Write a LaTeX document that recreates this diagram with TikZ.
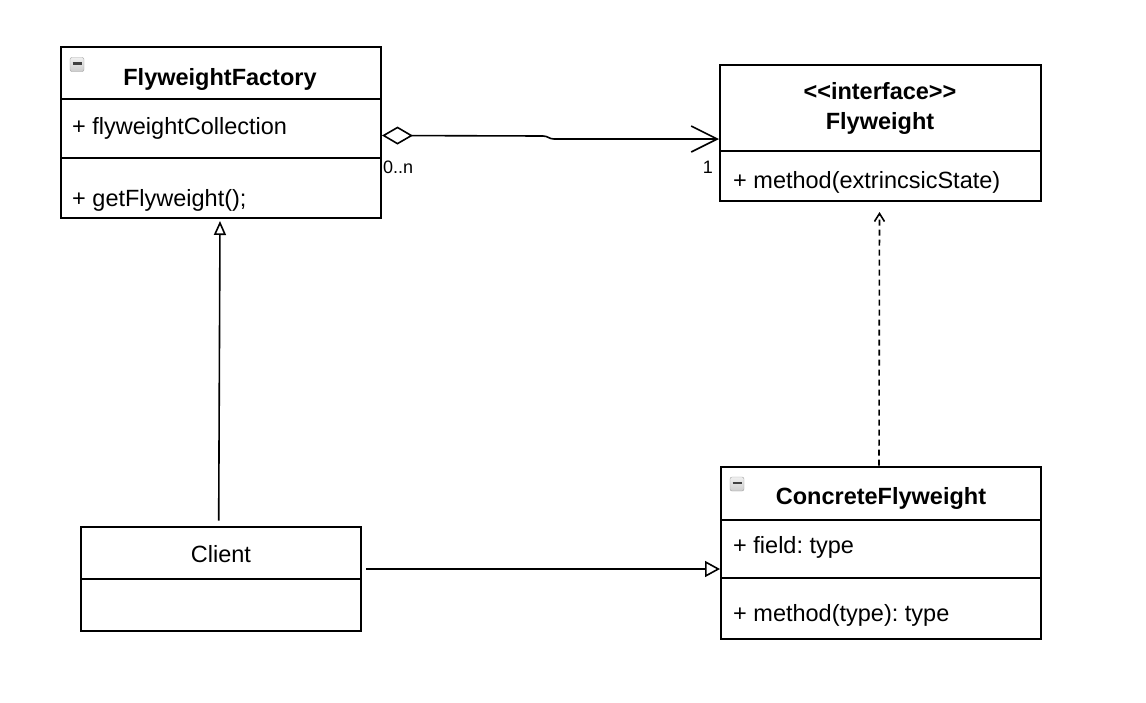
\documentclass[tikz,border=0pt]{standalone}
\usepackage{fontspec}
\setmainfont{Liberation Sans}
\usetikzlibrary{arrows.meta}
\frenchspacing
\begin{document}
\begin{tikzpicture}[x=1pt,y=-1pt,
  box/.style={draw, line width=2pt, rectangle, inner sep=0pt},
  divl/.style={line width=2pt},
  txt/.style={inner sep=0pt, anchor=base west, font=\fontsize{23.5}{28}\selectfont},
  ctxt/.style={inner sep=0pt, anchor=base, font=\fontsize{23.5}{28}\selectfont},
  ttl/.style={inner sep=0pt, anchor=base, font=\bfseries\fontsize{23.5}{28}\selectfont},
  mult/.style={inner sep=0pt, font=\fontsize{18}{21}\selectfont},
  conn/.style={line width=1.6pt},
  dashline/.style={dash pattern=on 6pt off 4pt},
  icon/.style={draw=gray!75, top color=gray!12, bottom color=gray!40, rounded corners=2pt,
    minimum width=14pt, minimum height=14pt, inner sep=0pt,
    path picture={\draw[line width=2.4pt, black!75]
      ([xshift=2.5pt,yshift=1pt]path picture bounding box.west) -- ([xshift=-2.5pt,yshift=1pt]path picture bounding box.east);}}
]
\useasboundingbox (0,0) rectangle (1146,702);

% FlyweightFactory
\node[box, minimum width=320pt, minimum height=171pt] (fac) at (221,132.3) {};
\draw[divl] (fac.west |- 0,99) -- (fac.east |- 0,99);
\draw[divl] (fac.west |- 0,158) -- (fac.east |- 0,158);
\node[icon] (facicon) at (77,64.5) {};
\node[ttl] (factitle) at (220,85) {FlyweightFactory};
\node[txt] (facattr) at (72,134) {+ flyweightCollection};
\node[txt] (facop) at (72,206) {+ getFlyweight();};

% Flyweight interface
\node[box, minimum width=321pt, minimum height=135.5pt] (fly) at (880.5,132.8) {};
\draw[divl] (fly.west |- 0,151) -- (fly.east |- 0,151);
\node[ttl] (flyster) at (880,99.5) {<{}<interface>{}>};
\node[ttl] (flytitle) at (880,129.5) {Flyweight};
\node[txt] (flyop) at (733,188) {+ method(extrincsicState)};

% ConcreteFlyweight
\node[box, minimum width=320pt, minimum height=172pt] (con) at (881,552.5) {};
\draw[divl] (con.west |- 0,520) -- (con.east |- 0,520);
\draw[divl] (con.west |- 0,578) -- (con.east |- 0,578);
\node[icon] (conicon) at (737,484) {};
\node[ttl] (contitle) at (881,504) {ConcreteFlyweight};
\node[txt] (conattr) at (733,553) {+ field: type};
\node[txt] (conop) at (733,621.5) {+ method(type): type};

% Client
\node[box, minimum width=280pt, minimum height=104pt] (cli) at (221.2,578.8) {};
\draw[divl] (cli.west |- 0,579) -- (cli.east |- 0,579);
\node[ctxt] (clititle) at (221,562) {Client};

% connectors
\coordinate (agA) at (fac.east |- 0,135.5);
\coordinate (agB) at (fly.west |- 0,139);
\draw[conn, {Diamond[open,length=31pt,width=18pt]}-{Straight Barb[length=26pt,width=26pt]}]
  (agA) -- (543,136) .. controls (548,136) and (549,139) .. (554,139) -- (agB);
\node[mult, anchor=base west] (m0n) at (383,173) {0..n};
\node[mult, anchor=base east] (m1) at (713,173) {1};

\coordinate (gA) at (218.7,520.5);
\coordinate (gB) at (220,221);
\draw[conn, -{Triangle[open,length=14pt,width=12pt]}] (gA) -- (gB);

\coordinate (dA) at (con.north -| 879,0);
\coordinate (dB) at (879.5,212);
\draw[conn, dashline, -{Straight Barb[length=8pt,width=10pt]}] (dA) -- (dB);

\coordinate (cA) at (366,569);
\coordinate (cB) at (con.west |- 0,569);
\draw[conn, -{Triangle[open,length=15pt,width=16pt]}] (cA) -- (cB);
\end{tikzpicture}
\end{document}
